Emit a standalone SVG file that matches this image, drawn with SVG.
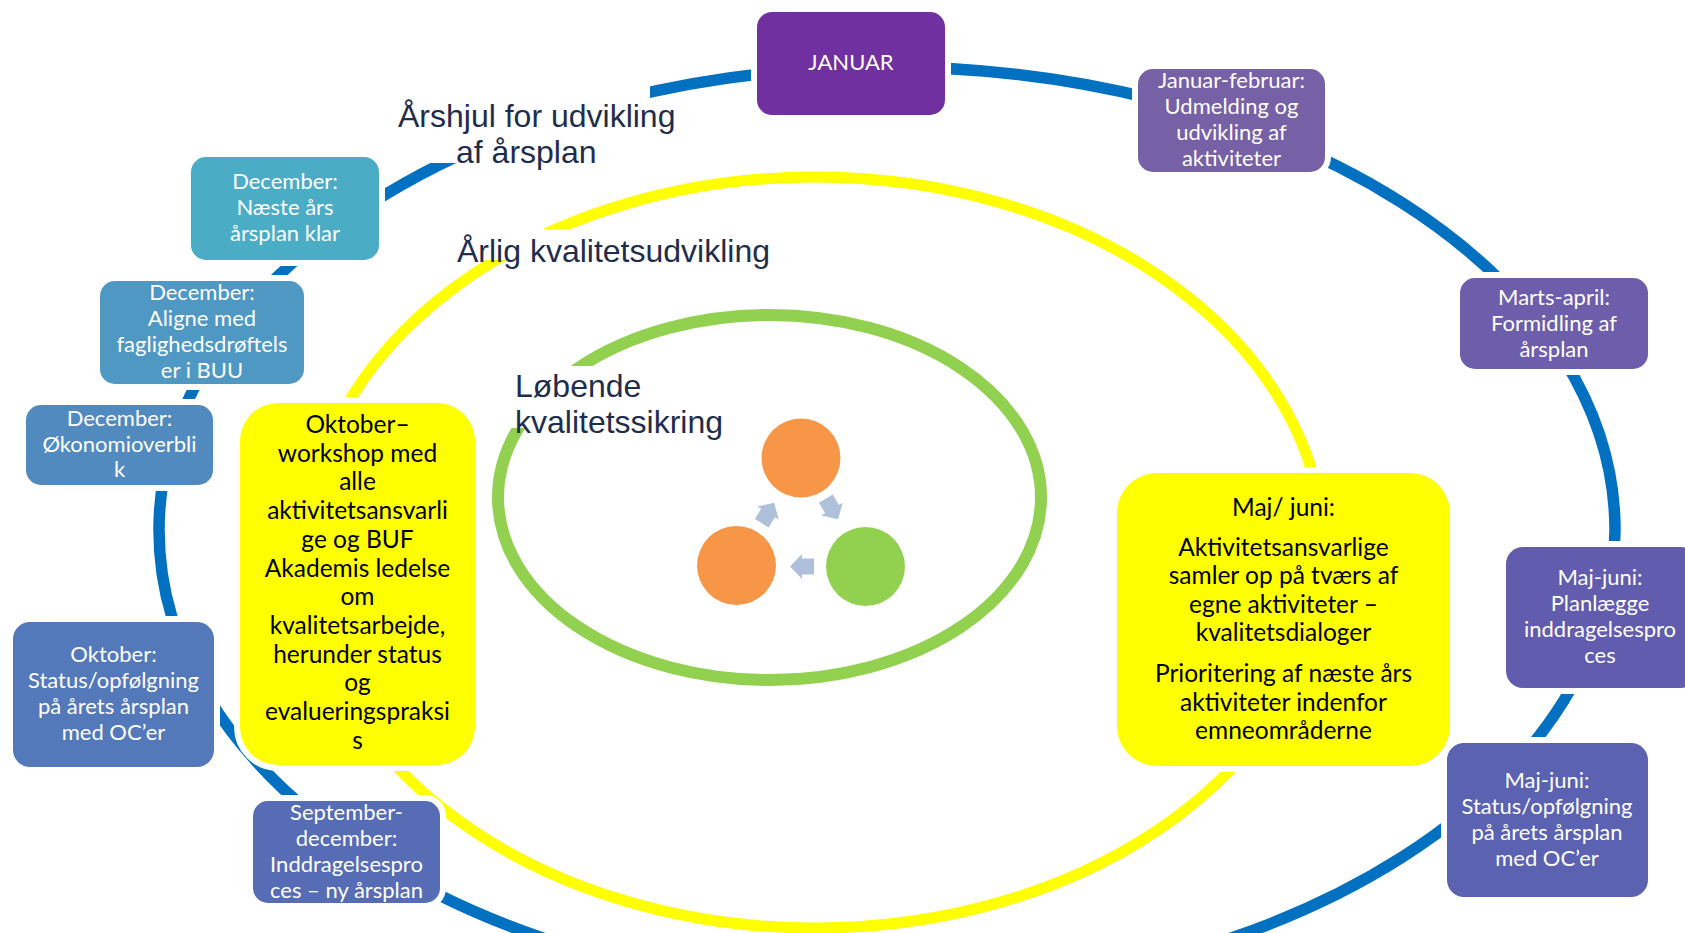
<svg xmlns="http://www.w3.org/2000/svg" width="1685" height="933" viewBox="0 0 1685 933">
<style>
.box{stroke:#fff;stroke-width:12;paint-order:stroke}
.bt{font-family:Lato,"Open Sans","Liberation Sans",sans-serif;font-size:22px;fill:#fff;text-anchor:middle}
.yt{font-family:Lato,"Open Sans","Liberation Sans",sans-serif;font-size:24.5px;fill:#000;text-anchor:middle}
.title{font-family:"Liberation Sans",Arial,sans-serif;font-size:32px;fill:#1F2D4D}
.ring{fill:none}
.arrow{fill:#AFC0DB}
</style>
<defs>
<polygon id="arr" points="-12,0 0,-12.5 0,-8 12,-8 12,8 0,8 0,12.5"/>
</defs>
<rect width="1685" height="933" fill="#fff"/>

<g id="rings">
<ellipse class="ring" cx="815" cy="552.5" rx="509" ry="375.5" stroke="#FFFF00" stroke-width="11"/>
<ellipse class="ring" cx="769.5" cy="497.5" rx="271.5" ry="182.5" stroke="#92D050" stroke-width="12"/>
</g>

<g id="connectors">
<ellipse class="ring" cx="887" cy="530" rx="728" ry="463" stroke="#0070C0" stroke-width="11.5"/>
</g>

<g id="title-arshjul">
<rect x="390" y="60" width="260" height="103" fill="#fff"/>
<text class="title" x="398" y="127">Årshjul for udvikling</text>
<text class="title" x="456" y="163">af årsplan</text>
</g>
<g id="title-arlig">
<rect x="450" y="229" width="330" height="31" fill="#fff"/>
<text class="title" x="457" y="262">Årlig kvalitetsudvikling</text>
</g>
<g id="title-lobende">
<rect x="505" y="366" width="230" height="62" fill="#fff"/>
<text class="title" x="515" y="397">Løbende</text>
<text class="title" x="515" y="433">kvalitetssikring</text>
</g>

<g id="cycle">
<circle cx="801" cy="458" r="39.5" fill="#F79646"/>
<circle cx="736.5" cy="565.5" r="39.5" fill="#F79646"/>
<circle cx="865.5" cy="566.5" r="39.5" fill="#92D050"/>
<use href="#arr" class="arrow" transform="translate(768,513) rotate(121.3)"/>
<use href="#arr" class="arrow" transform="translate(832,509) rotate(-120.7)"/>
<use href="#arr" class="arrow" transform="translate(802,566.5)"/>
</g>

<g id="januar">
<rect class="box" x="757" y="12" width="188" height="103" rx="15" fill="#7030A0"/>
<text class="bt" x="851" y="70">JANUAR</text>
</g>
<g id="januar-februar">
<rect class="box" x="1138" y="69" width="187" height="103" rx="15" fill="#7660A6"/>
<text class="bt" x="1231.5" y="88">Januar-februar:</text>
<text class="bt" x="1231.5" y="114">Udmelding og</text>
<text class="bt" x="1231.5" y="140">udvikling af</text>
<text class="bt" x="1231.5" y="166">aktiviteter</text>
</g>
<g id="marts-april">
<rect class="box" x="1460" y="278" width="188" height="91" rx="15" fill="#6C5EAA"/>
<text class="bt" x="1554" y="305">Marts-april:</text>
<text class="bt" x="1554" y="331">Formidling af</text>
<text class="bt" x="1554" y="357">årsplan</text>
</g>
<g id="maj-juni-planlaegge">
<rect class="box" x="1506" y="547" width="192" height="141" rx="17" fill="#615CAD"/>
<text class="bt" x="1600" y="585">Maj-juni:</text>
<text class="bt" x="1600" y="611">Planlægge</text>
<text class="bt" x="1600" y="637">inddragelsespro</text>
<text class="bt" x="1600" y="663">ces</text>
</g>
<g id="maj-juni-status">
<rect class="box" x="1447" y="743" width="201" height="154" rx="17" fill="#5A62B1"/>
<text class="bt" x="1547" y="788">Maj-juni:</text>
<text class="bt" x="1547" y="814">Status/opfølgning</text>
<text class="bt" x="1547" y="840">på årets årsplan</text>
<text class="bt" x="1547" y="866">med OC’er</text>
</g>
<g id="september-december">
<rect class="box" x="253" y="801" width="187" height="102" rx="15" fill="#566CB5"/>
<text class="bt" x="346.5" y="820">September-</text>
<text class="bt" x="346.5" y="846">december:</text>
<text class="bt" x="346.5" y="872">Inddragelsespro</text>
<text class="bt" x="346.5" y="898">ces – ny årsplan</text>
</g>
<g id="oktober">
<rect class="box" x="13" y="622" width="201" height="145" rx="17" fill="#5479BA"/>
<text class="bt" x="113.5" y="662">Oktober:</text>
<text class="bt" x="113.5" y="688">Status/opfølgning</text>
<text class="bt" x="113.5" y="714">på årets årsplan</text>
<text class="bt" x="113.5" y="740">med OC’er</text>
</g>
<g id="december-okonomi">
<rect class="box" x="26" y="405" width="187" height="80" rx="15" fill="#518ABF"/>
<text class="bt" x="119.5" y="426">December:</text>
<text class="bt" x="119.5" y="452">Økonomioverbli</text>
<text class="bt" x="119.5" y="477">k</text>
</g>
<g id="december-aligne">
<rect class="box" x="100" y="281" width="204" height="103" rx="15" fill="#4E98C3"/>
<text class="bt" x="202" y="300">December:</text>
<text class="bt" x="202" y="326">Aligne med</text>
<text class="bt" x="202" y="352">faglighedsdrøftels</text>
<text class="bt" x="202" y="378">er i BUU</text>
</g>
<g id="december-naeste">
<rect class="box" x="191" y="157" width="188" height="103" rx="15" fill="#4BACC6"/>
<text class="bt" x="285" y="189">December:</text>
<text class="bt" x="285" y="215">Næste års</text>
<text class="bt" x="285" y="241">årsplan klar</text>
</g>
<g id="oktober-workshop">
<rect class="box" x="240" y="403" width="235" height="362" rx="38" fill="#FFFF00"/>
<text class="yt" x="357.5" y="433">Oktober–</text>
<text class="yt" x="357.5" y="461.7">workshop med</text>
<text class="yt" x="357.5" y="490.4">alle</text>
<text class="yt" x="357.5" y="519.1">aktivitetsansvarli</text>
<text class="yt" x="357.5" y="547.8">ge og BUF</text>
<text class="yt" x="357.5" y="576.5">Akademis ledelse</text>
<text class="yt" x="357.5" y="605.2">om</text>
<text class="yt" x="357.5" y="633.9">kvalitetsarbejde,</text>
<text class="yt" x="357.5" y="662.6">herunder status</text>
<text class="yt" x="357.5" y="691.3">og</text>
<text class="yt" x="357.5" y="720">evalueringspraksi</text>
<text class="yt" x="357.5" y="748.7">s</text>
</g>
<g id="maj-juni-kvalitet">
<rect class="box" x="1117" y="473" width="333" height="293" rx="40" fill="#FFFF00"/>
<text class="yt" x="1283.5" y="516">Maj/ juni:</text>
<text class="yt" x="1283.5" y="556">Aktivitetsansvarlige</text>
<text class="yt" x="1283.5" y="584">samler op på tværs af</text>
<text class="yt" x="1283.5" y="613">egne aktiviteter –</text>
<text class="yt" x="1283.5" y="641">kvalitetsdialoger</text>
<text class="yt" x="1283.5" y="682">Prioritering af næste års</text>
<text class="yt" x="1283.5" y="711">aktiviteter indenfor</text>
<text class="yt" x="1283.5" y="739">emneområderne</text>
</g>
</svg>
